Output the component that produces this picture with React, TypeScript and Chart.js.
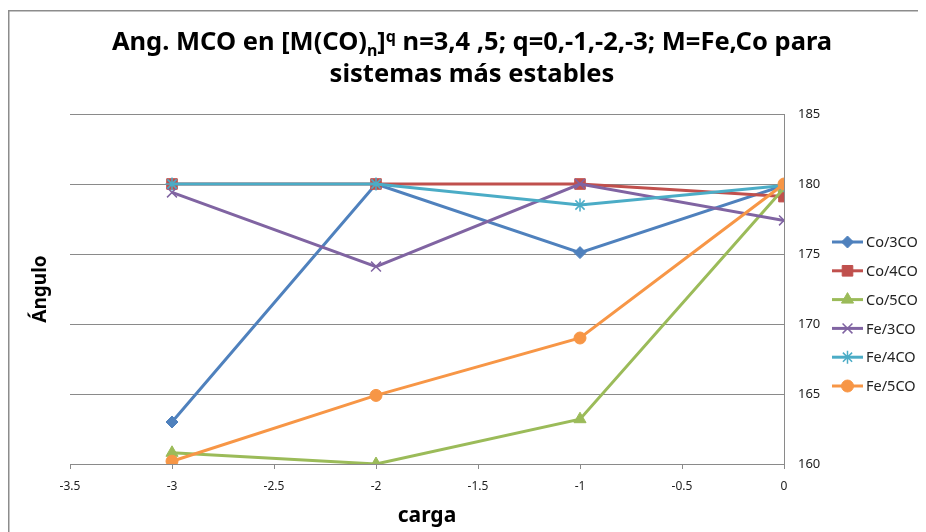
import React, { useEffect, useRef } from 'react';
import { Chart, registerables } from 'chart.js';
import { drawPoint } from 'chart.js/helpers';

Chart.register(...registerables);

const charges = [-3, -2, -1, 0];
const seriesNames = ['Co/3CO', 'Co/4CO', 'Co/5CO', 'Fe/3CO', 'Fe/4CO', 'Fe/5CO'];
const co3 = [163.0, 180, 175.1, 179.9];
const co4 = [180, 180, 180, 179.1];
const co5 = [160.8, 160, 163.2, 179.7];
const fe3 = [179.4, 174.1, 180, 177.4];
const fe4 = [180, 180, 178.5, 179.9];
const fe5 = [160.2, 164.9, 169.0, 180];
const seriesValues = [co3, co4, co5, fe3, fe4, fe5];
const xTicks = [-3.5, -3, -2.5, -2, -1.5, -1, -0.5, 0];
const yTicks = [160, 165, 170, 175, 180, 185];
const titleLine1Before = 'Ang. MCO en [M(CO)';
const titleSub = 'n';
const titleMid = ']';
const titleSup = 'q';
const titleLine1After = ' n=3,4 ,5; q=0,-1,-2,-3; M=Fe,Co para';
const titleLine2 = 'sistemas más estables';
const xTitle = 'carga';
const yTitle = 'Ángulo';

const colors = ['#4F81BD', '#C0504D', '#9BBB59', '#8064A2', '#4BACC6', '#F79646'];
const pointStyles = ['rectRot', 'rect', 'triangle', 'crossRot', 'star', 'circle'];
const pointRadii = [6, 7.5, 7, 7, 6.5, 6];
const FONT = '"Noto Sans", sans-serif';
const GRID = '#8a8a8a';

const framePlugin = {
  id: 'frame',
  beforeDraw(chart: any) {
    const { ctx, width, height } = chart;
    ctx.save();
    ctx.strokeStyle = '#8c8c8c';
    ctx.lineWidth = 1.5;
    ctx.beginPath();
    ctx.moveTo(0.75, height);
    ctx.lineTo(0.75, 2.75);
    ctx.lineTo(width, 2.75);
    ctx.stroke();
    ctx.restore();
  },
};

const titlePlugin = {
  id: 'richTitle',
  afterDraw(chart: any) {
    const { ctx } = chart;
    const cx = 464;
    const size = 25.5;
    const small = 16;
    ctx.save();
    ctx.fillStyle = '#000';
    ctx.textBaseline = 'middle';
    const big = `bold ${size}px ${FONT}`;
    const sm = `bold ${small}px ${FONT}`;
    ctx.font = big;
    const w1 = ctx.measureText(titleLine1Before).width;
    const w3 = ctx.measureText(titleMid).width;
    const w5 = ctx.measureText(titleLine1After).width;
    ctx.font = sm;
    const w2 = ctx.measureText(titleSub).width;
    const w4 = ctx.measureText(titleSup).width;
    const total = w1 + w2 + w3 + w4 + w5;
    let x = cx - total / 2;
    const y1 = 35;
    ctx.textAlign = 'left';
    ctx.font = big;
    ctx.fillText(titleLine1Before, x, y1);
    x += w1;
    ctx.font = sm;
    ctx.fillText(titleSub, x, y1 + 8);
    x += w2;
    ctx.font = big;
    ctx.fillText(titleMid, x, y1);
    x += w3;
    ctx.font = sm;
    ctx.fillText(titleSup, x, y1 - 6);
    x += w4;
    ctx.font = big;
    ctx.fillText(titleLine1After, x, y1);
    ctx.textAlign = 'center';
    ctx.fillText(titleLine2, cx, 67);
    ctx.restore();
  },
};

const legendPlugin = {
  id: 'sideLegend',
  afterDraw(chart: any) {
    const { ctx } = chart;
    ctx.save();
    ctx.font = `14.5px ${FONT}`;
    ctx.textBaseline = 'middle';
    ctx.textAlign = 'left';
    seriesNames.forEach((name, i) => {
      const y = 234 + i * 28.8;
      ctx.strokeStyle = colors[i];
      ctx.lineWidth = 3;
      ctx.beginPath();
      ctx.moveTo(824, y);
      ctx.lineTo(855, y);
      ctx.stroke();
      ctx.fillStyle = colors[i];
      const bw = pointStyles[i] === 'crossRot' || pointStyles[i] === 'star' ? 1.5 : 1;
      ctx.lineWidth = bw;
      drawPoint(ctx, { pointStyle: pointStyles[i], radius: pointRadii[i], borderWidth: bw, rotation: 0 } as any, 839.5, y);
      ctx.fillStyle = '#222';
      ctx.fillText(name, 858, y + 1);
    });
    ctx.restore();
  },
};

export default function App() {
  const ref = useRef<HTMLCanvasElement>(null);
  useEffect(() => {
    if (!ref.current) return;
    const chart = new Chart(ref.current, {
      type: 'line',
      data: {
        datasets: seriesNames.map((name, i) => ({
          label: name,
          data: charges.map((c, j) => ({ x: c, y: seriesValues[i][j] })),
          borderColor: colors[i],
          backgroundColor: colors[i],
          pointBorderColor: colors[i],
          pointBackgroundColor: colors[i],
          pointStyle: pointStyles[i] as any,
          pointRadius: pointRadii[i],
          pointBorderWidth: pointStyles[i] === 'crossRot' || pointStyles[i] === 'star' ? 1.5 : 1,
          borderWidth: 3,
          tension: 0,
          fill: false,
          order: seriesNames.length - i,
        })),
      },
      options: {
        animation: false,
        responsive: true,
        maintainAspectRatio: false,
        layout: { padding: { top: 106, right: 102, left: 0, bottom: 0 } },
        plugins: { legend: { display: false }, title: { display: false }, tooltip: { enabled: false } },
        scales: {
          x: {
            type: 'linear',
            position: 'bottom',
            min: -3.5,
            max: 0,
            afterBuildTicks: (s: any) => { s.ticks = xTicks.map((v) => ({ value: v })); },
            afterFit: (s: any) => { s.height = 68; },
            ticks: { callback: (v: any) => String(v), color: '#222', font: { family: FONT, size: 12 }, padding: 10, maxRotation: 0 },
            grid: { drawOnChartArea: false, drawTicks: true, tickLength: 5, color: GRID },
            border: { display: true, color: GRID },
            title: { display: true, text: xTitle, color: '#000', font: { family: FONT, size: 21, weight: 'bold' }, padding: { top: 0, bottom: 3 } },
          },
          y: {
            type: 'linear',
            position: 'right',
            min: 160,
            max: 185,
            afterBuildTicks: (s: any) => { s.ticks = yTicks.map((v) => ({ value: v })); },
            afterFit: (s: any) => { s.width = 40; },
            ticks: { color: '#222', font: { family: FONT, size: 13 }, padding: 14 },
            grid: { color: GRID, drawTicks: false },
            border: { display: true, color: GRID },
          },
          yLeft: {
            type: 'linear',
            position: 'left',
            min: 160,
            max: 185,
            afterFit: (s: any) => { s.width = 62; },
            ticks: { display: false },
            grid: { display: false },
            border: { display: false },
            title: { display: true, text: yTitle, color: '#000', font: { family: FONT, size: 19, weight: 'bold' }, padding: { top: 21, bottom: 0 } },
          },
        },
      } as any,
      plugins: [framePlugin, titlePlugin, legendPlugin],
    });
    return () => chart.destroy();
  }, []);
  return (
    <div style={{ width: 918, height: 524, position: 'relative' }}>
      <canvas ref={ref} />
    </div>
  );
}
